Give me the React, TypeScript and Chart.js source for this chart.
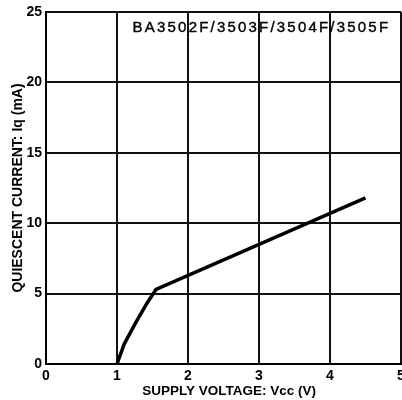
import React, { useEffect, useRef } from "react";
import { Chart, registerables } from "chart.js";

Chart.register(...registerables);

const voltage = [1.0, 1.1, 1.26, 1.42, 1.55, 4.5];
const current = [0, 1.4, 2.9, 4.3, 5.3, 11.8];
const xTicks = [0, 1, 2, 3, 4, 5];
const yTicks = [0, 5, 10, 15, 20, 25];
const chartTitle = "BA3502F/3503F/3504F/3505F";
const xTitle = "SUPPLY VOLTAGE: Vcc (V)";
const yTitle = "QUIESCENT CURRENT: Iq (mA)";

const FONT = "'Liberation Sans', Arial, sans-serif";

const titlePlugin = {
  id: "innerTitle",
  afterDraw(chart: any) {
    const { ctx } = chart;
    const xs = chart.scales.x;
    const ys = chart.scales.y;
    ctx.save();
    ctx.font = `15px ${FONT}`;
    (ctx as any).letterSpacing = "2.2px";
    ctx.fillStyle = "#000";
    ctx.strokeStyle = "#000";
    ctx.lineWidth = 0.4;
    ctx.textAlign = "left";
    ctx.textBaseline = "middle";
    const x = xs.getPixelForValue(1.22);
    const y = ys.getPixelForValue(23.9);
    ctx.fillText(chartTitle, x, y);
    ctx.strokeText(chartTitle, x, y);
    (ctx as any).letterSpacing = "0px";
    ctx.font = `bold 13.5px ${FONT}`;
    ctx.textAlign = "center";
    ctx.textBaseline = "middle";
    ctx.fillText(xTitle, xs.getPixelForValue(2.58), 391);
    ctx.restore();
  },
};

export default function App() {
  const ref = useRef<HTMLCanvasElement | null>(null);
  useEffect(() => {
    if (!ref.current) return;
    const chart = new Chart(ref.current, {
      type: "scatter",
      data: {
        datasets: [
          {
            data: voltage.map((v, i) => ({ x: v, y: current[i] })),
            showLine: true,
            borderColor: "#000",
            borderWidth: 3.5,
            pointRadius: 0,
            tension: 0,
            fill: false,
          },
        ],
      },
      options: {
        animation: false,
        responsive: false,
        maintainAspectRatio: false,
        layout: { padding: { top: 12, right: 1, left: 0, bottom: 0 } },
        plugins: {
          legend: { display: false },
          tooltip: { enabled: false },
          title: { display: false },
        },
        scales: {
          x: {
            type: "linear",
            min: 0,
            max: 5,
            afterBuildTicks: (s: any) => {
              s.ticks = xTicks.map((v) => ({ value: v }));
            },
            afterFit: (s: any) => {
              s.height = 36;
              s.paddingLeft = 0;
              s.paddingRight = 0;
            },
            grid: { color: "#111", lineWidth: 2, drawTicks: false },
            border: { display: true, color: "#000", width: 2 },
            ticks: {
              color: "#000",
              padding: 4,
              font: { family: FONT, size: 14, weight: "bold" },
              maxRotation: 0,
              autoSkip: false,
            },
            title: { display: false },
          },
          y: {
            type: "linear",
            min: 0,
            max: 25,
            afterBuildTicks: (s: any) => {
              s.ticks = yTicks.map((v) => ({ value: v }));
            },
            afterFit: (s: any) => {
              s.width = 46;
              s.paddingTop = 0;
              s.paddingBottom = 0;
            },
            grid: { color: "#111", lineWidth: 2, drawTicks: false },
            border: { display: true, color: "#000", width: 2 },
            ticks: {
              color: "#000",
              padding: 4,
              font: { family: FONT, size: 14, weight: "bold" },
              autoSkip: false,
            },
            title: {
              display: true,
              text: yTitle,
              color: "#000",
              font: { family: FONT, size: 14, weight: "bold" },
              padding: { top: 10, bottom: 0 },
            },
          },
        },
      },
      plugins: [titlePlugin],
    });
    return () => chart.destroy();
  }, []);
  return (
    <div style={{ position: "fixed", left: 0, top: 0, width: 402, height: 400, background: "#fff" }}>
      <canvas ref={ref} width={402} height={400} style={{ display: "block", width: 402, height: 400 }} />
    </div>
  );
}
